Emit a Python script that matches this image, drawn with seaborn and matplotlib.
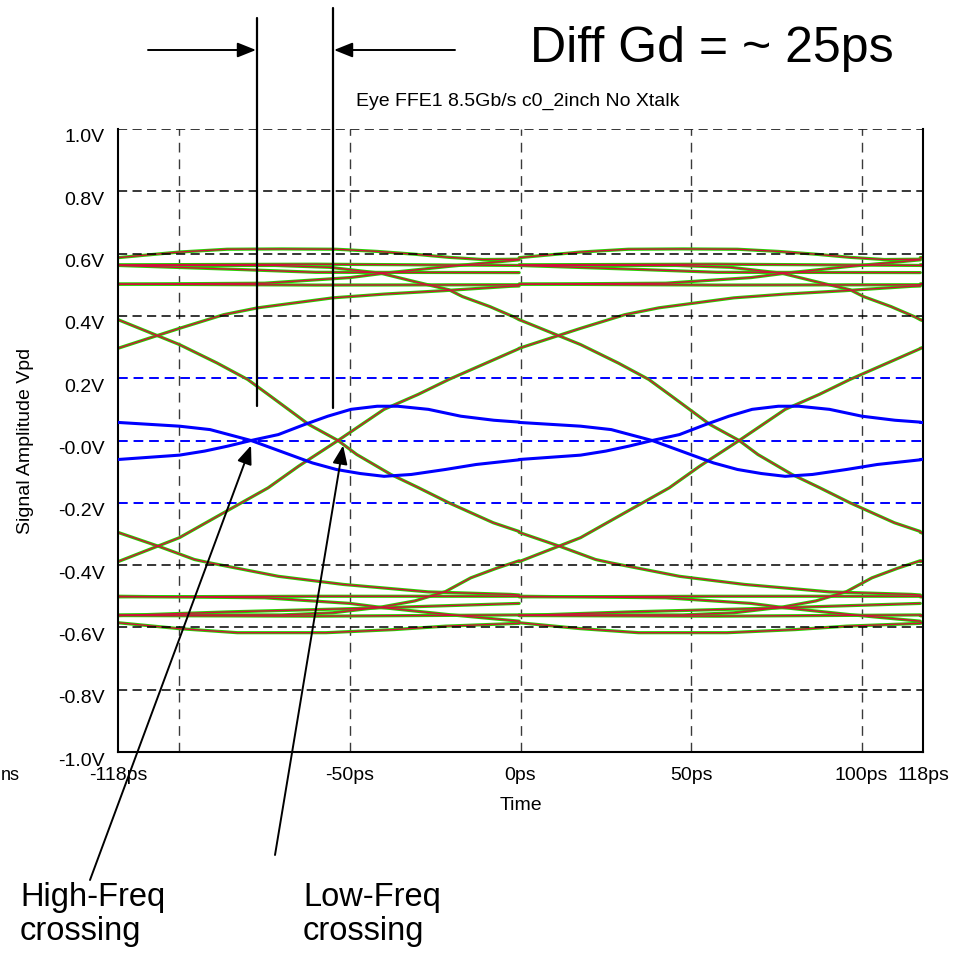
import matplotlib
matplotlib.use("Agg")
import matplotlib.pyplot as plt
import numpy as np
import pandas as pd
import seaborn as sns
from matplotlib.lines import Line2D
from matplotlib.transforms import ScaledTranslation

# ---------------- data ----------------
UI_PS = 117.6  # one unit interval at 8.5 Gb/s; eye window = 2 UI

# one-UI trace segments (time in ps, amplitude in V); each repeats one UI later
seg_top_arc_t = [-118.0, -100, -86, -70, -54, -42, -31, -21, -11, -0.4]
seg_top_arc_v = [0.587, 0.605, 0.614, 0.615, 0.614, 0.607, 0.598, 0.588, 0.581, 0.582]
seg_hi_fall_t = [-118.0, -72, -56, -41, -31, -21, -17, -9, -2, -0.4]
seg_hi_fall_v = [0.562, 0.562, 0.556, 0.537, 0.51, 0.484, 0.462, 0.43, 0.397, 0.388]
seg_hi_rise_t = [-118.0, -75, -50, -40, -21, -0.4]
seg_hi_rise_v = [0.502, 0.505, 0.523, 0.537, 0.559, 0.58]
seg_hi_flat1_t = [-118.0, -60, -0.4]
seg_hi_flat1_v = [0.564, 0.566, 0.562]
seg_hi_flat2_t = [-118.0, -85, -60, -0.4]
seg_hi_flat2_v = [0.562, 0.55, 0.54, 0.539]
seg_hi_flat3_t = [-118.0, -60, -0.4]
seg_hi_flat3_v = [0.502, 0.499, 0.5]
seg_hi_settle_t = [-118.0, -100, -87, -77, -66, -55, -40, -22.5, -3, -0.4]
seg_hi_settle_v = [0.296, 0.36, 0.404, 0.426, 0.442, 0.458, 0.47, 0.481, 0.495, 0.496]

seg_bot_arc_t = [-118.0, -100, -83, -57, -37, -22, -0.4]
seg_bot_arc_v = [-0.585, -0.604, -0.617, -0.617, -0.607, -0.596, -0.587]
seg_lo_rise_t = [-118.0, -70, -55, -41, -31, -22, -14.6, -7, -0.4]
seg_lo_rise_v = [-0.56, -0.56, -0.553, -0.535, -0.515, -0.485, -0.441, -0.41, -0.386]
seg_lo_fall_t = [-118.0, -75, -50, -40, -21, -0.4]
seg_lo_fall_v = [-0.5, -0.505, -0.523, -0.537, -0.559, -0.58]
seg_lo_flat1_t = [-118.0, -60, -0.4]
seg_lo_flat1_v = [-0.562, -0.564, -0.56]
seg_lo_flat2_t = [-118.0, -85, -50, -0.4]
seg_lo_flat2_v = [-0.562, -0.55, -0.54, -0.523]
seg_lo_flat3_t = [-118.0, -60, -0.4]
seg_lo_flat3_v = [-0.502, -0.5, -0.5]
seg_lo_settle_t = [-118.0, -106, -95.6, -91, -71, -52, -27, -3, -0.4]
seg_lo_settle_v = [-0.295, -0.34, -0.382, -0.393, -0.436, -0.462, -0.486, -0.494, -0.496]

seg_cross_fall_t = [-118.0, -100, -89, -80, -74, -62, -53.5, -48, -38, -30, -21, -8, -0.4]
seg_cross_fall_v = [0.388, 0.308, 0.249, 0.196, 0.148, 0.051, 0.0, -0.045, -0.109, -0.151, -0.2, -0.264, -0.292]
seg_cross_rise_t = [-118.0, -100, -88, -74, -65, -53.5, -40, -30, -21, -0.4]
seg_cross_rise_v = [-0.389, -0.312, -0.238, -0.152, -0.082, 0.0, 0.1, 0.148, 0.196, 0.295]

# blue traces (one-UI segments)
blue_fall_t = [-118.0, -100, -91, -79, -69, -61, -54, -47, -40, -32, -22, -13, -0.4]
blue_fall_v = [0.058, 0.046, 0.035, 0.0, -0.04, -0.072, -0.093, -0.106, -0.115, -0.109, -0.093, -0.077, -0.062]
blue_rise_t = [-118.0, -100, -92.6, -85.8, -79, -71, -63.4, -56.5, -49.7, -42, -36, -27, -17.5, -7.8, -0.4]
blue_rise_v = [-0.061, -0.047, -0.034, -0.018, 0.0, 0.019, 0.051, 0.078, 0.1, 0.11, 0.11, 0.1, 0.078, 0.065, 0.059]

x_ticks = [-118, -100, -50, 0, 50, 100, 118]
x_tick_labels = ["-118ps", "", "-50ps", "0ps", "50ps", "100ps", "118ps"]
y_ticks = [1.0, 0.8, 0.6, 0.4, 0.2, 0.0, -0.2, -0.4, -0.6, -0.8, -1.0]
y_tick_labels = ["1.0V", "0.8V", "0.6V", "0.4V", "0.2V", "-0.0V", "-0.2V",
                 "-0.4V", "-0.6V", "-0.8V", "-1.0V"]
black_grid_y = [1.0, 0.8, 0.6, 0.4, -0.4, -0.6, -0.8]
blue_grid_y = [0.2, 0.0, -0.2]
grid_x = [-100, -50, 0, 50, 100]

eye_segments = {
    "top_arc": (seg_top_arc_t, seg_top_arc_v),
    "hi_fall": (seg_hi_fall_t, seg_hi_fall_v),
    "hi_rise": (seg_hi_rise_t, seg_hi_rise_v),
    "hi_flat1": (seg_hi_flat1_t, seg_hi_flat1_v),
    "hi_flat2": (seg_hi_flat2_t, seg_hi_flat2_v),
    "hi_flat3": (seg_hi_flat3_t, seg_hi_flat3_v),
    "hi_settle": (seg_hi_settle_t, seg_hi_settle_v),
    "bot_arc": (seg_bot_arc_t, seg_bot_arc_v),
    "lo_rise": (seg_lo_rise_t, seg_lo_rise_v),
    "lo_fall": (seg_lo_fall_t, seg_lo_fall_v),
    "lo_flat1": (seg_lo_flat1_t, seg_lo_flat1_v),
    "lo_flat2": (seg_lo_flat2_t, seg_lo_flat2_v),
    "lo_flat3": (seg_lo_flat3_t, seg_lo_flat3_v),
    "lo_settle": (seg_lo_settle_t, seg_lo_settle_v),
    "cross_fall": (seg_cross_fall_t, seg_cross_fall_v),
    "cross_rise": (seg_cross_rise_t, seg_cross_rise_v),
}
blue_segments = {
    "b_fall": (blue_fall_t, blue_fall_v),
    "b_rise": (blue_rise_t, blue_rise_v),
}


def fold(segs):
    """Lay each one-UI segment into the 2-UI eye window (plus the sliver past 2 UI)."""
    rows = []
    for name, (tt, vv) in segs.items():
        for k in range(3):
            for ti, vi in zip(tt, vv):
                rows.append((f"{name}_{k}", ti + k * UI_PS, vi))
    return pd.DataFrame(rows, columns=["seg", "t", "v"])


eye_df = fold(eye_segments)
blue_df = fold(blue_segments)

# ---------------- figure ----------------
sns.set_style("white")
plt.rcParams["font.family"] = ["Liberation Sans", "DejaVu Sans"]
plt.rcParams["text.color"] = "black"
plt.rcParams["axes.labelcolor"] = "black"
plt.rcParams["xtick.color"] = "black"
plt.rcParams["ytick.color"] = "black"

W, H = 969, 960
fig = plt.figure(figsize=(W / 100, H / 100), dpi=100)


def fx(px):
    return px / W


def fy(py):
    return 1 - py / H


ax = fig.add_axes([fx(118), fy(752), (923 - 118) / W, (752 - 129) / H])

for yv in black_grid_y:
    ax.axhline(yv, color="black", ls=(0, (6, 3.5)), lw=1.1, zorder=3)
for yv in blue_grid_y:
    ax.axhline(yv, color="#0000ff", ls=(0, (5, 3)), lw=1.4, zorder=1)
for xv in grid_x:
    ax.axvline(xv, color="#3a3a3a", ls=(0, (7, 5)), lw=1.0, zorder=1)

sns.lineplot(data=eye_df, x="t", y="v", units="seg", estimator=None, sort=False,
             color="#22d400", lw=2.3, ax=ax, zorder=2, legend=False)
sns.lineplot(data=eye_df, x="t", y="v", units="seg", estimator=None, sort=False,
             color="#d0103c", lw=1.0, ax=ax, zorder=2.2, legend=False)
sns.lineplot(data=blue_df, x="t", y="v", units="seg", estimator=None, sort=False,
             color="#0000ff", lw=2.2, ax=ax, zorder=4, legend=False)

ax.set_xlim(-118, 118)
ax.set_ylim(-1.0, 1.0)
ax.set_xticks(x_ticks)
ax.set_xticklabels(x_tick_labels)
ax.set_yticks(y_ticks)
ax.set_yticklabels(y_tick_labels)
ax.tick_params(axis="x", direction="in", length=7, width=1, pad=11,
               labelsize=14, colors="black")
ax.tick_params(axis="y", length=0, pad=9.5, labelsize=14, colors="black")
off = ScaledTranslation(0, -7 / 100, fig.dpi_scale_trans)
for lbl in ax.get_yticklabels():
    lbl.set_transform(lbl.get_transform() + off)

for side in ["left", "right", "bottom"]:
    ax.spines[side].set_visible(True)
    ax.spines[side].set_color("black")
    ax.spines[side].set_linewidth(1.5)
ax.spines["top"].set_visible(False)

ax.set_xlabel("Time", fontsize=14, labelpad=9)
ax.set_ylabel("Signal Amplitude Vpd", fontsize=14, labelpad=17)
ax.set_title("Eye FFE1 8.5Gb/s c0_2inch No Xtalk", fontsize=14, pad=17, x=0.497)

fig.text(fx(1), fy(775), "ns", ha="left", va="center", fontsize=13)

# ---------------- annotations ----------------
fig.text(fx(530), fy(62), "Diff Gd = ~ 25ps", fontsize=36, va="baseline", ha="left")
fig.text(fx(20), fy(906), "High-Freq", fontsize=23.5, va="baseline")
fig.text(fx(20), fy(940), "crossing", fontsize=23.5, va="baseline")
fig.text(fx(303), fy(906), "Low-Freq", fontsize=23.5, va="baseline")
fig.text(fx(303), fy(940), "crossing", fontsize=23.5, va="baseline")

fig.add_artist(Line2D([fx(257), fx(257)], [fy(18), fy(406)], transform=fig.transFigure,
                      color="black", lw=1.6, zorder=6))
fig.add_artist(Line2D([fx(333), fx(333)], [fy(8), fy(408)], transform=fig.transFigure,
                      color="black", lw=1.6, zorder=6))

arrow_style = dict(arrowstyle="-|>,head_length=0.75,head_width=0.3", mutation_scale=15,
                   color="black", lw=1.4, shrinkA=0, shrinkB=0)
ax.annotate("", xy=(fx(256), fy(50)), xycoords="figure fraction",
            xytext=(fx(148), fy(50)), textcoords="figure fraction",
            arrowprops=arrow_style, annotation_clip=False)
ax.annotate("", xy=(fx(334), fy(50)), xycoords="figure fraction",
            xytext=(fx(455), fy(50)), textcoords="figure fraction",
            arrowprops=arrow_style, annotation_clip=False)
ax.annotate("", xy=(-79.0, -0.016), xycoords="data",
            xytext=(fx(90), fy(880)), textcoords="figure fraction",
            arrowprops=arrow_style, annotation_clip=False, zorder=7)
ax.annotate("", xy=(-52.0, -0.016), xycoords="data",
            xytext=(fx(275), fy(855)), textcoords="figure fraction",
            arrowprops=arrow_style, annotation_clip=False, zorder=7)

fig.savefig("out.png", dpi=100)
